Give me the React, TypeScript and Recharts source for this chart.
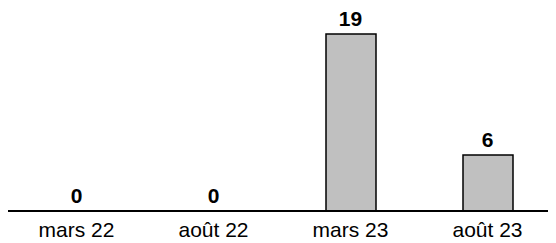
import { ComposedChart, Bar, Line, XAxis, YAxis, LabelList } from "recharts";

const periods = ["mars 22", "août 22", "mars 23", "août 23"];
const counts = [0, 0, 19, 6];

const data = periods.map((p, i) => ({ period: p, count: counts[i] }));

export default function App() {
  return (
    <div style={{ fontFamily: "'Liberation Sans', Arial, sans-serif" }}>
      <ComposedChart
        width={548}
        height={235}
        data={data}
        margin={{ top: 26, right: 0, left: 0, bottom: 2 }}
      >
        <XAxis
          dataKey="period"
          axisLine={{ stroke: "#000", strokeWidth: 2 }}
          tickLine={false}
          tickMargin={5}
          tick={{ fontSize: 21, fill: "#000" }}
          interval={0}
        />
        <YAxis hide domain={[0, "dataMax"]} />
        <Bar
          dataKey="count"
          fill="#c0c0c0"
          stroke="#000"
          strokeWidth={1.5}
          barSize={50}
          isAnimationActive={false}
        />
        {/* invisible line only carries the value labels, so zeros get one too */}
        <Line
          dataKey="count"
          stroke="none"
          dot={false}
          activeDot={false}
          isAnimationActive={false}
        >
          <LabelList
            dataKey="count"
            position="top"
            offset={8}
            style={{ fontSize: 21, fontWeight: "bold", fill: "#000" }}
          />
        </Line>
      </ComposedChart>
    </div>
  );
}
